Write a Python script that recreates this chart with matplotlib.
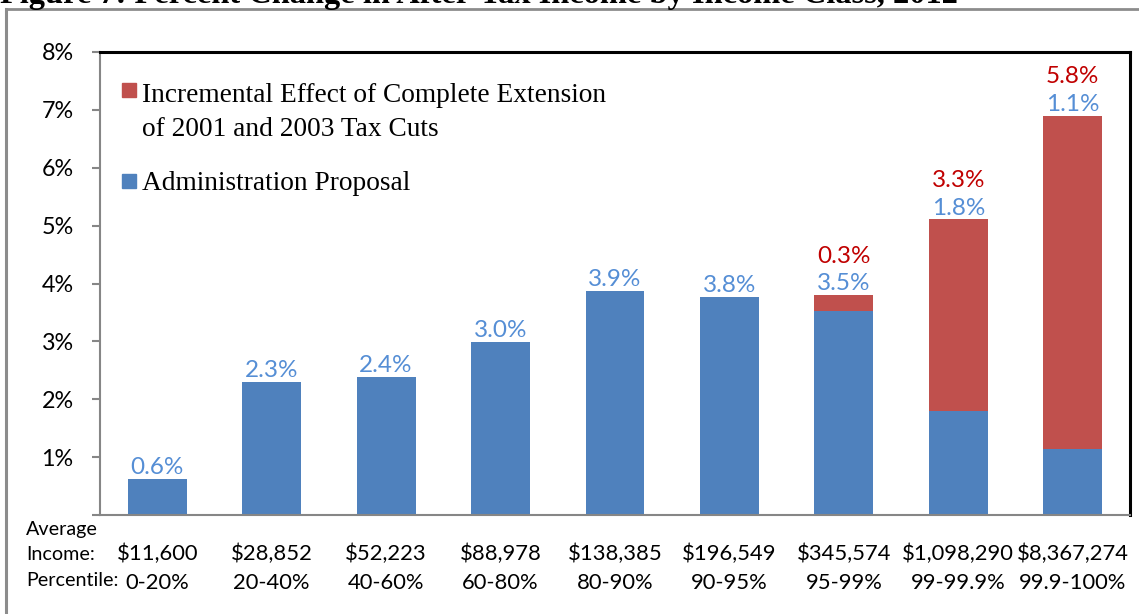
#!/usr/bin/env python3

import matplotlib
matplotlib.use("Agg")
import matplotlib.pyplot as plt
import numpy as np
from matplotlib.patches import Rectangle
from matplotlib.lines import Line2D

# Data
incomes = ["$11,600", "$28,852", "$52,223", "$88,978", "$138,385",
           "$196,549", "$345,574", "$1,098,290", "$8,367,274"]
percentiles = ["0-20%", "20-40%", "40-60%", "60-80%", "80-90%",
               "90-95%", "95-99%", "99-99.9%", "99.9-100%"]
admin = [0.63, 2.30, 2.39, 2.99, 3.87, 3.77, 3.52, 1.80, 1.14]
increment = [0.0, 0.0, 0.0, 0.0, 0.0, 0.0, 0.28, 3.31, 5.76]
yticks = [0, 1, 2, 3, 4, 5, 6, 7, 8]

BLUE = "#4F81BD"
RED = "#C0504D"
BLUE_TXT = "#558ED5"
RED_TXT = "#C00000"
SANS = "Lato"
SERIF = "Liberation Serif"

# axes box in pixels
AX_L, AX_R, AX_T, AX_B = 100, 1130, 52, 515


def ax_xy(px, py):
    '''pixel position -> axes fraction'''
    return (px - AX_L) / (AX_R - AX_L), (AX_B - py) / (AX_B - AX_T)


def main():
    '''Main function'''
    fig = plt.figure(figsize=(11.39, 6.14), dpi=100)
    ax = fig.add_axes([AX_L / 1139, 1 - AX_B / 614,
                       (AX_R - AX_L) / 1139, (AX_B - AX_T) / 614])

    x = np.arange(len(admin))
    admin_a = np.array(admin)
    inc_a = np.array(increment)
    ax.bar(x, admin_a, width=0.515, color=BLUE, zorder=2)
    ax.bar(x, inc_a, width=0.515, bottom=admin_a, color=RED, zorder=2)

    # Data labels
    for i in range(len(admin)):
        top = admin_a[i] + inc_a[i]
        ax.annotate(f"{admin_a[i]:.1f}%", (x[i], top), xytext=(0, 0.5),
                    textcoords="offset points", ha="center", va="bottom",
                    color=BLUE_TXT, fontsize=17.5, family=SANS)
        if inc_a[i] > 0:
            ax.annotate(f"{inc_a[i]:.1f}%", (x[i], top), xytext=(0, 20.5),
                        textcoords="offset points", ha="center", va="bottom",
                        color=RED_TXT, fontsize=17.5, family=SANS)

    ax.set_xlim(-0.5, len(admin) - 0.5)
    ax.set_ylim(0, 8)
    ax.set_yticks(yticks)
    ax.set_yticklabels(["" if t == 0 else f"{t}%" for t in yticks],
                       fontsize=16.8, family=SANS)
    ax.tick_params(axis="y", length=6, width=1.5, color="#868686", pad=13)
    ax.set_xticks([])

    for side in ["left", "bottom"]:
        ax.spines[side].set_color("#868686")
        ax.spines[side].set_linewidth(1.5)
    for side in ["top", "right"]:
        ax.spines[side].set_color("black")
        ax.spines[side].set_linewidth(2.2)

    # Category labels under the axis
    for i in range(len(admin)):
        ax.text(x[i], ax_xy(0, 554)[1], incomes[i],
                transform=ax.get_xaxis_transform(),
                ha="center", va="center", fontsize=15.8, family=SANS)
        ax.text(x[i], ax_xy(0, 583)[1], percentiles[i],
                transform=ax.get_xaxis_transform(),
                ha="center", va="center", fontsize=15.8, family=SANS)
    fig.text(26 / 1139, 1 - 529 / 614, "Average", ha="left", va="center",
             fontsize=14.2, family=SANS)
    fig.text(26 / 1139, 1 - 555 / 614, "Income:", ha="left", va="center",
             fontsize=14.2, family=SANS)
    fig.text(26 / 1139, 1 - 580 / 614, "Percentile:", ha="left", va="center",
             fontsize=14.2, family=SANS)

    # Legend (square aligned with the first line of each entry)
    sq_w, sq_h = 14 / (AX_R - AX_L), 14 / (AX_B - AX_T)
    for color, cy in [(RED, 90), (BLUE, 181)]:
        x0, y0 = ax_xy(122, cy + 7)
        ax.add_patch(Rectangle((x0, y0), sq_w, sq_h, color=color,
                               transform=ax.transAxes, clip_on=False))
    legend_lines = [("Incremental Effect of Complete Extension", 95),
                    ("of 2001 and 2003 Tax Cuts", 129),
                    ("Administration Proposal", 183)]
    for txt, cy in legend_lines:
        tx, ty = ax_xy(142, cy)
        ax.text(tx, ty, txt, transform=ax.transAxes, ha="left", va="center",
                fontsize=19.7, family=SERIF)

    # Outer frame and clipped title
    fig.add_artist(Line2D([6 / 1139, 6 / 1139], [0, 1 - 9 / 614],
                          color="#8c8c8c", lw=2.2))
    fig.add_artist(Line2D([6 / 1139, 1], [1 - 9 / 614, 1 - 9 / 614],
                          color="#8c8c8c", lw=2.0))
    fig.text(0.0, 1 - 2.5 / 614,
             "Figure 7: Percent Change in After-Tax Income by Income Class, 2012",
             ha="left", va="baseline", fontsize=23.3, fontweight="bold",
             family=SERIF)

    plt.savefig("out.png", dpi=100)


if __name__ == '__main__':
    main()
